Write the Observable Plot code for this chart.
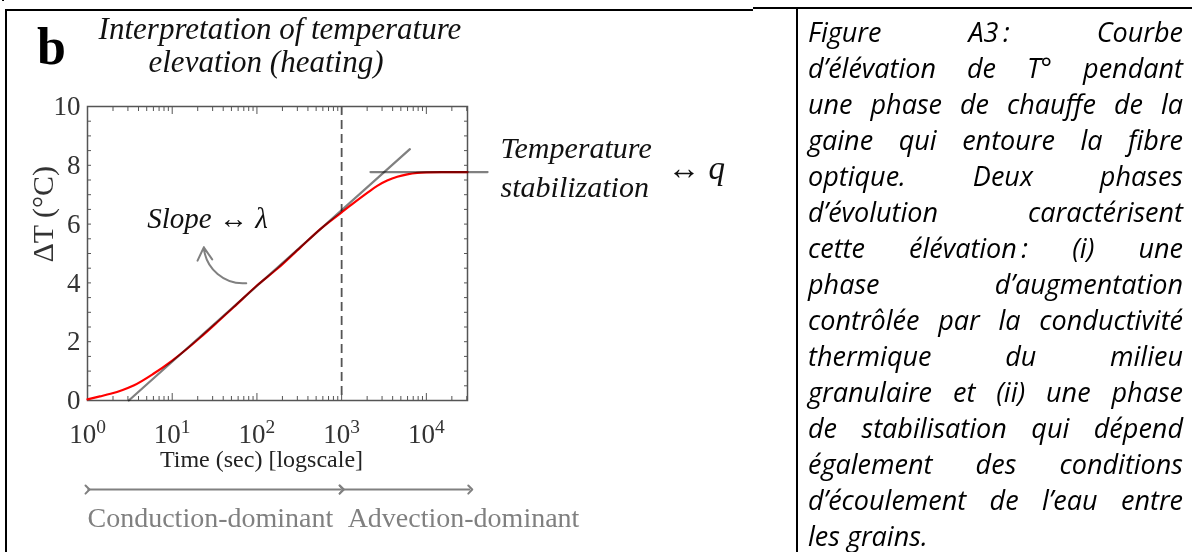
<!DOCTYPE html>
<html><head><meta charset="utf-8">
<script src="https://cdn.jsdelivr.net/npm/d3@7"></script>
<script src="https://cdn.jsdelivr.net/npm/@observablehq/plot@0.6"></script>
<style>
html,body{margin:0;padding:0;background:#fff;width:1192px;height:552px;overflow:hidden;position:relative}
.abs{position:absolute}
.serif{font-family:'Liberation Serif','Times New Roman',serif}
.title{font-style:italic;font-size:31px;color:#111;white-space:nowrap;transform:translateX(-50%)}
#caption{left:808px;top:0;width:375px;font-family:'Open Sans',Lato,sans-serif;font-style:italic;font-weight:400;color:#000}
.cl{position:absolute;left:0;white-space:pre;line-height:36px}
</style></head><body>
<div class="abs" style="left:0;top:-31px;font-family:'Open Sans',sans-serif;font-size:24px;white-space:nowrap">pendant la mesure.</div>
<div class="abs" style="left:6px;top:9px;width:747px;height:2px;background:#000"></div>
<div class="abs" style="left:753px;top:7px;width:439px;height:2px;background:#000"></div>
<div class="abs" style="left:5px;top:9px;width:2px;height:543px;background:#000"></div>
<div class="abs" style="left:796px;top:7px;width:2px;height:545px;background:#000"></div>
<div id="chart" class="abs" style="left:0;top:0"></div>
<div class="abs serif" style="left:37px;top:21px;font-size:52px;font-weight:bold;line-height:1">b</div>
<div class="abs serif title" style="left:280px;top:11px">Interpretation of temperature</div>
<div class="abs serif title" style="left:266px;top:44px">elevation (heating)</div>
<div id="caption" class="abs"></div>
<script>
// ---- data ----
const timeSec = [1, 1.4, 1.87, 2.6, 3.5, 6, 10, 15, 21.6, 34, 53, 100, 174, 327, 565, 1000, 1393, 2005, 2630, 3450, 4540, 5950, 7800, 10000, 15000, 30600];
const deltaT  = [0.04, 0.14, 0.23, 0.36, 0.51, 0.91, 1.36, 1.76, 2.15, 2.66, 3.17, 3.91, 4.48, 5.21, 5.84, 6.40, 6.72, 7.06, 7.30, 7.48, 7.61, 7.69, 7.74, 7.76, 7.77, 7.77];
const slopeTime = [3.07, 6390];
const slopeDT   = [0, 8.55];
const plateauTime = [2190, 52800];
const plateauDT   = [7.77, 7.77];
const transitionTime = [1000];
const yTicks = [0, 2, 4, 6, 8, 10];
const yMinorTicks = [0, 0.5, 1, 1.5, 2, 2.5, 3, 3.5, 4, 4.5, 5, 5.5, 6, 6.5, 7, 7.5, 8, 8.5, 9, 9.5, 10];
const xTicks = [1, 10, 100, 1000, 10000];
const xTickExp = ["0", "1", "2", "3", "4"];
const xMinorTicks = [2,3,4,5,6,7,8,9,20,30,40,50,60,70,80,90,200,300,400,500,600,700,800,900,2000,3000,4000,5000,6000,7000,8000,9000,20000,30000];
const regimeNames = ["Conduction-dominant", "Advection-dominant"];
const regimeStart = [1, 1000];
const regimeEnd   = [1000, 33000];
const slopeArrowFrom = [74.8, 3.99];
const slopeArrowTo   = [23.6, 5.21];
const slopeLabel = "Slope \u2194 \u03bb";
const slopeLabelAt = [26.1, 6.19];
const stabLabel = "Temperature\nstabilization";
const stabLabelAt = [75200, 8.02];
const qLabel = "\u2194 q";
const qLabelAt = [7.0e6, 7.88];
const xLabel = "Time (sec) [logscale]";
const yLabel = "\u0394T (\u00b0C)";
const captionLines = [
  "Figure A3\u2009: Courbe",
  "d\u2019\u00e9l\u00e9vation de T\u00b0 pendant",
  "une phase de chauffe de la",
  "gaine qui entoure la fibre",
  "optique. Deux phases",
  "d\u2019\u00e9volution caract\u00e9risent",
  "cette \u00e9l\u00e9vation\u2009: (i) une",
  "phase d\u2019augmentation",
  "contr\u00f4l\u00e9e par la conductivit\u00e9",
  "thermique du milieu",
  "granulaire et (ii) une phase",
  "de stabilisation qui d\u00e9pend",
  "\u00e9galement des conditions",
  "d\u2019\u00e9coulement de l\u2019eau entre",
  "les grains."
];

// ---- tables ----
const curve = timeSec.map((t, i) => ({t, dT: deltaT[i]}));
const slope = slopeTime.map((t, i) => ({t, dT: slopeDT[i]}));
const plateau = plateauTime.map((t, i) => ({t, dT: plateauDT[i]}));
const regimes = regimeNames.map((name, i) => ({name, start: regimeStart[i], end: regimeEnd[i]}));
const grey = "#808080";

const plot = Plot.plot({
  width: 790, height: 552,
  marginLeft: 87, marginRight: 323, marginTop: 106, marginBottom: 152,
  x: {type: "log", domain: [1, 30600]},
  y: {domain: [0, 10]},
  style: {fontFamily: "'Liberation Serif','Times New Roman',serif", fontSize: "26px", color: "#333", background: "transparent", overflow: "visible"},
  marks: [
    Plot.axisY({ticks: yMinorTicks, anchor: "left", tickSize: -4, tickFormat: () => "", label: null, stroke: "#555"}),
    Plot.axisY({ticks: yMinorTicks, anchor: "right", tickSize: -4, tickFormat: () => "", label: null, stroke: "#555"}),
    Plot.axisY({ticks: yTicks, anchor: "left", tickSize: 0, tickPadding: 7, label: null, fill: "#333", fontSize: 27}),
    Plot.axisX({ticks: xMinorTicks, anchor: "bottom", tickSize: -4, tickFormat: () => "", label: null, stroke: "#555"}),
    Plot.axisX({ticks: xMinorTicks, anchor: "top", tickSize: -4, tickFormat: () => "", label: null, stroke: "#555"}),
    Plot.axisX({ticks: xTicks, anchor: "bottom", tickSize: -7, tickPadding: 30, label: null, stroke: "#555", fill: "#333", fontSize: 27,
      tickFormat: d => "10^" + xTickExp[xTicks.indexOf(d)]}),
    Plot.axisX({ticks: xTicks, anchor: "top", tickSize: -7, tickFormat: () => "", label: null, stroke: "#555"}),
    Plot.text([yLabel], {frameAnchor: "left", rotate: -90, dx: -44, dy: 9, fontSize: 30, fill: "#333"}),
    Plot.text([xLabel], {frameAnchor: "bottom", dx: -16, dy: 66, fontSize: 24, fill: "#222"}),
    Plot.frame({stroke: "#555", strokeWidth: 1.5}),
    Plot.ruleX(transitionTime, {stroke: "#555", strokeWidth: 1.8, strokeDasharray: "9,5"}),
    Plot.line(curve, {x: "t", y: "dT", stroke: "#ff0000", strokeWidth: 2.2, curve: "monotone-x"}),
    Plot.line(slope, {x: "t", y: "dT", stroke: grey, strokeWidth: 2.2, mixBlendMode: "multiply"}),
    Plot.line(plateau, {x: "t", y: "dT", stroke: grey, strokeWidth: 2.2, mixBlendMode: "multiply"}),
    Plot.arrow([0], {x1: () => slopeArrowFrom[0], y1: () => slopeArrowFrom[1], x2: () => slopeArrowTo[0], y2: () => slopeArrowTo[1],
      bend: 45, stroke: grey, strokeWidth: 2, headLength: 11}),
    Plot.text([slopeLabel], {x: () => slopeLabelAt[0], y: () => slopeLabelAt[1], fontSize: 29, fontStyle: "italic", fill: "#111"}),
    Plot.text([stabLabel], {x: () => stabLabelAt[0], y: () => stabLabelAt[1], textAnchor: "start", lineHeight: 1.3, fontSize: 30, fontStyle: "italic", fill: "#111"}),
    Plot.text([qLabel], {x: () => qLabelAt[0], y: () => qLabelAt[1], textAnchor: "start", fontSize: 33, fontStyle: "italic", fill: "#111"}),
    Plot.link(regimes, {x1: "start", x2: "end", y1: () => -3.03, y2: () => -3.03, stroke: grey, strokeWidth: 2, markerStart: "arrow", markerEnd: "arrow"}),
    Plot.text(regimes, {x: "start", y: () => -4.0, text: "name", textAnchor: "start", fontSize: 28, fill: grey})
  ]
});
document.getElementById("chart").appendChild(plot);

// superscript exponents on x tick labels
plot.querySelectorAll('g[aria-label="x-axis tick label"] text').forEach(t => {
  const s = t.textContent;
  if (s.includes("^")) {
    const [b, e] = s.split("^");
    t.textContent = "";
    const ns = "http://www.w3.org/2000/svg";
    const t1 = document.createElementNS(ns, "tspan"); t1.textContent = b;
    const t2 = document.createElementNS(ns, "tspan"); t2.textContent = e;
    t2.setAttribute("dy", "-0.5em"); t2.setAttribute("font-size", "0.72em");
    t.appendChild(t1); t.appendChild(t2);
  }
});
// nudge second regime label off the divider
plot.querySelectorAll('g[aria-label="text"] text').forEach(t => {
  if (t.textContent === regimeNames[1]) t.setAttribute("dx", "6");
});

// caption, justified line by line; font size fitted so the densest line fills the column
const cap = document.getElementById("caption");
const probe = document.createElement("span");
probe.style.cssText = "position:absolute;white-space:pre;font-size:100px;visibility:hidden";
probe.textContent = captionLines[8];
cap.appendChild(probe);
const fs = Math.min(27, 370 / probe.getBoundingClientRect().width * 100);
cap.removeChild(probe);
cap.style.fontSize = fs + "px";
captionLines.forEach((line, i) => {
  const d = document.createElement("div");
  d.className = "cl";
  d.style.top = (14 + 36 * i) + "px";
  const s = document.createElement("span");
  s.textContent = line;
  d.appendChild(s);
  cap.appendChild(d);
  if (i < captionLines.length - 1) {
    const w = s.getBoundingClientRect().width;
    const n = (line.match(/ /g) || []).length;
    if (n) s.style.wordSpacing = ((375 - w) / n) + "px";
  }
});
</script>
</body></html>
